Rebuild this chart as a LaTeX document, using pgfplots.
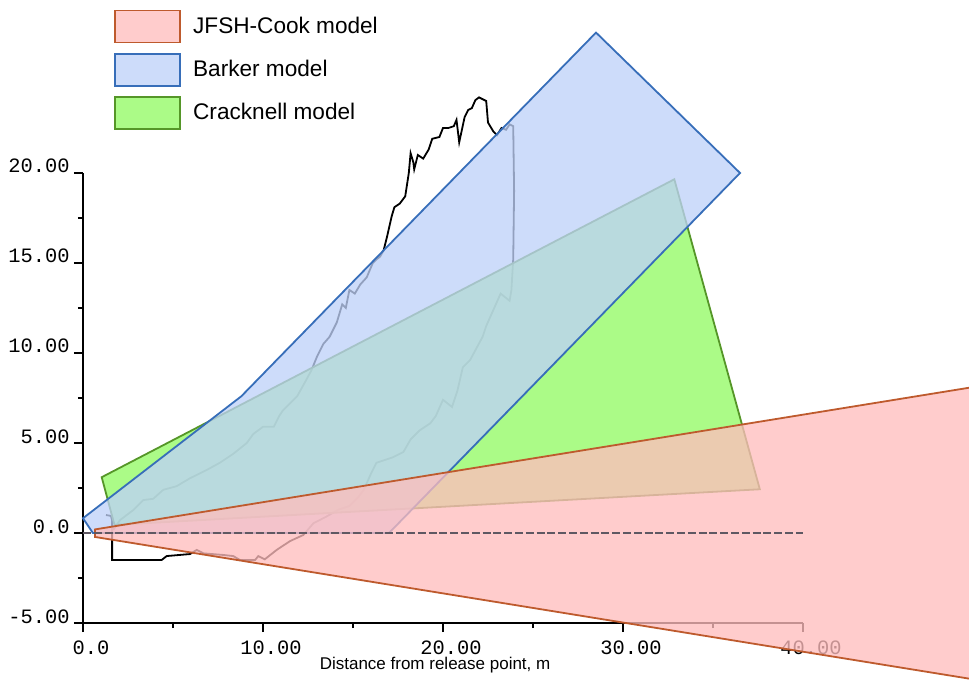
\documentclass[border=0pt]{standalone}
\usepackage{pgfplots}
\pgfplotsset{compat=1.18}
\usepackage{fontspec}
\setmainfont{Liberation Sans}
\setmonofont{Liberation Mono}

\definecolor{jfshFill}{RGB}{255,189,189}
\definecolor{jfshEdge}{RGB}{190,90,45}
\definecolor{barkerFill}{RGB}{190,209,248}
\definecolor{barkerEdge}{RGB}{55,110,185}
\definecolor{crackFill}{RGB}{150,250,105}
\definecolor{crackEdge}{RGB}{85,150,40}
\definecolor{centreline}{RGB}{95,88,98}

\begin{document}
\begin{tikzpicture}
\begin{axis}[
  set layers,
  x=9pt, y=9pt,
  xmin=0, xmax=40, ymin=-5, ymax=20,
  enlargelimits=false,
  clip=false,
  axis x line*=bottom, axis y line*=left,
  axis line style={black, line width=0.6pt, -},
  xtick={0,10,20,30,40},
  xticklabels={0.0,10.00,20.00,30.00,40.00},
  ytick={-5,0,5,10,15,20},
  yticklabels={-5.00,0.0,5.00,10.00,15.00,20.00},
  minor x tick num=1, minor y tick num=1,
  tick align=outside,
  major tick length=4.5pt, minor tick length=2.5pt,
  tick style={black, line width=0.6pt},
  ticklabel style={font=\fontsize{10.2}{12}\ttfamily, inner sep=0pt},
  xticklabel style={anchor=north, xshift=4pt, yshift=-4pt},
  yticklabel style={anchor=base east, xshift=-2pt},
  xlabel={Distance from release point, m},
  xlabel style={font=\fontsize{8.5}{10}\selectfont, at={(axis description cs:0.489,0)},
    anchor=north, inner sep=0pt, yshift=-17pt},
  reverse legend,
  legend image code/.code={\draw[#1] (0pt,-8pt) rectangle (32.5pt,8pt);},
  legend style={draw=none, fill=none, at={(axis description cs:0.0347,1.373)},
    anchor=north west, font=\fontsize{11.3}{13}\selectfont,
    nodes={inner sep=0pt}, row sep=4.8pt, column sep=6pt},
  legend cell align=left,
]

% measured cloud outline
\addplot[black, line width=0.9pt, forget plot] coordinates {
  (1.28,1.00) (1.55,0.95) (1.62,0.70) (1.62,-1.50) (4.37,-1.50) (4.65,-1.28)
  (5.94,-1.17) (6.32,-0.94) (6.69,-1.13) (7.80,-1.22) (8.35,-1.28) (8.72,-1.50)
  (9.56,-1.50) (9.74,-1.28) (10.10,-1.46) (10.76,-0.94) (11.50,-0.45) (12.24,-0.11)
  (12.80,0.54) (13.50,0.90) (14.20,1.30) (14.80,1.50) (15.30,2.00) (15.60,2.40)
  (16.00,3.30) (16.30,3.90) (17.20,4.20) (17.80,4.50) (18.20,5.20) (18.70,5.70)
  (19.30,6.10) (19.60,6.50) (20.00,7.40) (20.50,7.00) (20.80,7.90) (21.10,9.20)
  (21.50,9.60) (22.20,10.90) (22.40,11.50) (23.20,13.30) (23.70,12.90) (23.80,13.50)
  (23.90,15.20) (23.95,19.00) (23.90,22.60) (23.70,22.70) (23.50,22.40) (23.25,22.50)
  (23.00,22.10) (22.80,22.30) (22.50,22.80) (22.40,24.00) (22.20,24.10) (22.00,24.20)
  (21.80,24.05) (21.60,23.60) (21.40,23.50) (21.20,23.10) (20.90,21.70) (20.75,22.95)
  (20.60,22.60) (20.30,22.50) (20.00,22.50) (19.80,22.00) (19.40,21.90) (19.20,21.30)
  (18.90,20.80) (18.60,21.00) (18.40,20.20) (18.35,20.60) (18.20,21.10) (18.10,20.00)
  (17.90,18.70) (17.60,18.30) (17.30,18.10) (17.15,17.60) (16.90,16.50) (16.70,15.70)
  (16.50,15.35) (16.30,15.20) (16.10,15.00) (15.76,14.20) (15.40,13.80) (15.10,13.30)
  (14.80,13.50) (14.60,12.50) (14.40,12.70) (14.10,11.70) (13.70,10.90) (13.35,10.50)
  (13.00,9.80) (12.70,9.06) (12.40,8.50) (11.90,7.60) (11.50,7.20) (11.10,6.80)
  (10.90,6.50) (10.60,5.90) (10.00,5.90) (9.46,5.50) (9.10,5.00) (8.35,4.40)
  (7.60,3.90) (6.87,3.50) (5.94,3.04) (5.20,2.60) (4.46,2.40) (3.90,1.90)
  (3.35,1.83) (2.80,1.28) (2.06,0.72) (1.68,0.17)
};

% model footprints
\addplot[draw=crackEdge, line width=0.9pt, fill=crackFill, fill opacity=0.8]
  coordinates {(1.04,3.10) (32.85,19.65) (37.60,2.43) (1.75,0.45)} -- cycle;
\addlegendentry{Cracknell model}

\addplot[draw=barkerEdge, line width=0.9pt, fill=barkerFill, fill opacity=0.77]
  coordinates {(0,0.82) (8.8,7.6) (28.5,27.8) (36.5,20.0) (17.0,0) (0.55,0)} -- cycle;
\addlegendentry{Barker model}

\addplot[draw=jfshEdge, line width=0.9pt, fill=jfshFill, fill opacity=0.77]
  coordinates {(0.67,0.20) (52,8.52) (52,-8.54) (0.67,-0.22)} -- cycle;
\addlegendentry{JFSH-Cook model}

% centreline
\addplot[centreline, line width=0.6pt, dash pattern=on 4pt off 1.4pt, forget plot]
  coordinates {(0,0) (40,0)};

\coordinate (bbsw) at (axis cs:-4.61,-8.39);
\coordinate (bbne) at (axis cs:49.22,29.61);
\end{axis}
\pgfresetboundingbox
\path (bbsw) rectangle (bbne);
\end{tikzpicture}
\end{document}
